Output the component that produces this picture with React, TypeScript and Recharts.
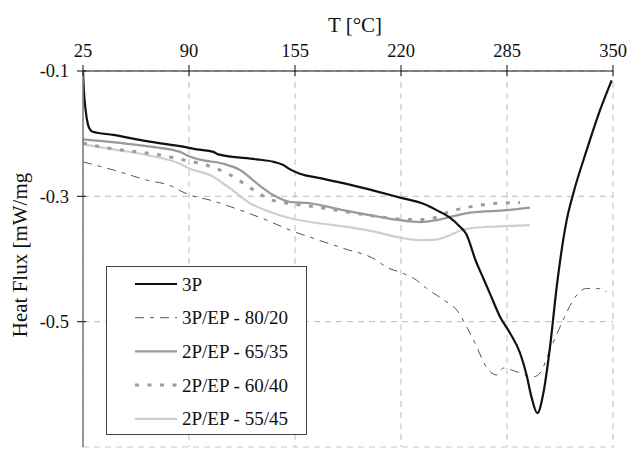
import * as React from "react";
import { LineChart, Line, XAxis, YAxis, CartesianGrid, Legend, Label } from "recharts";

const FONT = "'Liberation Serif', 'Times New Roman', serif";

const TICKS_T = [25, 90, 155, 220, 285, 350];
const TICKS_HF = [-0.7, -0.5, -0.3, -0.1];

// 3P
const t3P = [25, 25.5, 26.5, 28, 29.5, 31, 43.6, 64, 84.5, 94.7, 105, 108, 131.5, 142, 147.8, 152, 158, 170.3, 184.6, 205, 219.4, 233.7, 241.8, 250, 256, 260, 266, 270, 275, 280.7, 286.8, 293, 297, 300, 303.6, 307.3, 311.4, 315.5, 321.6, 325.7, 333.9, 342, 349.2];
const hf3P = [-0.1, -0.13, -0.16, -0.185, -0.194, -0.197, -0.202, -0.212, -0.22, -0.225, -0.229, -0.233, -0.241, -0.245, -0.25, -0.257, -0.264, -0.271, -0.279, -0.292, -0.302, -0.312, -0.322, -0.334, -0.348, -0.36, -0.404, -0.428, -0.458, -0.492, -0.518, -0.55, -0.585, -0.62, -0.646, -0.614, -0.54, -0.444, -0.338, -0.295, -0.226, -0.163, -0.115];

// 3P/EP - 80/20
const t8020 = [25, 43.6, 64, 80.4, 84.5, 90.6, 102.9, 121.3, 137.6, 152, 166.2, 184.6, 205, 211, 219.4, 229.6, 235.7, 246, 254, 264.4, 273.6, 278.7, 282.8, 291, 301.2, 305.2, 311.4, 319.5, 325.7, 333.8, 340, 346];
const hf8020 = [-0.245, -0.258, -0.274, -0.285, -0.291, -0.298, -0.306, -0.322, -0.338, -0.354, -0.367, -0.383, -0.402, -0.413, -0.421, -0.434, -0.447, -0.465, -0.481, -0.529, -0.577, -0.585, -0.574, -0.58, -0.588, -0.582, -0.545, -0.497, -0.465, -0.447, -0.447, -0.452];

// 2P/EP - 65/35
const t6535 = [25, 64, 84.5, 90, 96, 111, 121.3, 131.5, 141.7, 152, 164.2, 170.3, 184.6, 205, 219.4, 231.6, 241.8, 250, 262.3, 284.8, 299];
const hf6535 = [-0.209, -0.22, -0.229, -0.236, -0.241, -0.248, -0.258, -0.279, -0.298, -0.309, -0.311, -0.314, -0.322, -0.332, -0.338, -0.341, -0.338, -0.333, -0.326, -0.322, -0.318];

// 2P/EP - 60/40
const t6040 = [25, 38, 54.8, 72.2, 88.5, 97.7, 106, 114, 123.3, 131.5, 139.7, 147.8, 156, 165.2, 184.6, 205, 225.5, 232.7, 241, 249, 258.2, 274.6, 293];
const hf6040 = [-0.215, -0.222, -0.228, -0.234, -0.243, -0.248, -0.255, -0.264, -0.279, -0.293, -0.305, -0.31, -0.313, -0.316, -0.324, -0.332, -0.337, -0.337, -0.334, -0.325, -0.319, -0.312, -0.31];

// 2P/EP - 55/45
const t5545 = [25, 43.6, 64, 84.5, 90.6, 102.9, 115, 127.4, 139.7, 152, 164.2, 184.6, 205, 219.4, 231.6, 241.8, 250, 256, 262.3, 280, 299];
const hf5545 = [-0.217, -0.225, -0.234, -0.248, -0.256, -0.266, -0.287, -0.311, -0.325, -0.335, -0.341, -0.348, -0.357, -0.366, -0.37, -0.369, -0.362, -0.355, -0.351, -0.348, -0.346];

const pts = (t: number[], hf: number[]) => t.map((x, i) => ({ t: x, hf: hf[i] }));

type Series = { key: string; name: string; data: { t: number; hf: number }[]; stroke: string; width: number; dash?: string };

const SERIES: Series[] = [
  { key: "s1", name: "3P", data: pts(t3P, hf3P), stroke: "#111", width: 2.2 },
  { key: "s2", name: "3P/EP - 80/20", data: pts(t8020, hf8020), stroke: "#555", width: 1, dash: "9 6 4 6" },
  { key: "s3", name: "2P/EP - 65/35", data: pts(t6535, hf6535), stroke: "#999", width: 2.2 },
  { key: "s4", name: "2P/EP - 60/40", data: pts(t6040, hf6040), stroke: "#9c9c9c", width: 3, dash: "4 8.5" },
  { key: "s5", name: "2P/EP - 55/45", data: pts(t5545, hf5545), stroke: "#cfcfcf", width: 2.2 },
];
// draw order: light ones first, black on top
const DRAW_ORDER = ["s5", "s3", "s4", "s2", "s1"];

const TICK_SIZE = 6;
const TICK_MARGIN = 8;

function XTick(props: any) {
  const { x, y, payload } = props;
  const axisY = y + TICK_SIZE + TICK_MARGIN;
  return (
    <g>
      <line x1={x} x2={x} y1={axisY - 6} y2={axisY + 5} stroke="#111" strokeWidth={1} />
      <text x={x} y={y} textAnchor="middle" fontSize={18.5} fontFamily={FONT} fill="#111">
        {payload.value}
      </text>
    </g>
  );
}

function YTick(props: any) {
  const { x, y, payload } = props;
  const axisX = x + TICK_SIZE + TICK_MARGIN;
  return (
    <g>
      <line x1={axisX - 6} x2={axisX + 3} y1={y} y2={y} stroke="#111" strokeWidth={1} />
      <text x={x} y={y} dy="0.35em" textAnchor="end" fontSize={18.5} fontFamily={FONT} fill="#111">
        {Number(payload.value).toFixed(1)}
      </text>
    </g>
  );
}

function LegendBox() {
  return (
    <div
      style={{
        width: 201,
        height: 169,
        boxSizing: "border-box",
        border: "1px solid #444",
        background: "#fff",
      }}
    >
      <svg width={199} height={167}>
        {SERIES.map((s, i) => {
          const cy = 17 + i * 33.7;
          return (
            <g key={s.key}>
              <line x1={28} x2={70} y1={cy} y2={cy} stroke={s.stroke} strokeWidth={s.width} strokeDasharray={s.dash} />
              <text x={75} y={cy} dy="0.35em" fontSize={19} fontFamily={FONT} fill="#111">
                {s.name}
              </text>
            </g>
          );
        })}
      </svg>
    </div>
  );
}

export default function App() {
  return (
    <div style={{ position: "absolute", left: 0, top: 0, background: "#fff" }}>
      <LineChart width={630} height={452} margin={{ top: 0, right: 17, bottom: 5, left: 0 }}>
        <CartesianGrid stroke="#c8c8c8" strokeDasharray="6 5" strokeWidth={1.2} />
        <XAxis
          type="number"
          dataKey="t"
          orientation="top"
          domain={[25, 350]}
          ticks={TICKS_T}
          allowDataOverflow
          height={71}
          axisLine={{ stroke: "#111", strokeWidth: 1 }}
          tickLine={false}
          tickSize={TICK_SIZE}
          tickMargin={TICK_MARGIN}
          tick={<XTick />}
        >
          <Label
            content={(p: any) => {
              const vb = p.viewBox || { x: 83, width: 530 };
              return (
                <text x={vb.x + vb.width / 2 + 7} y={32} textAnchor="middle" fontSize={21} fontFamily={FONT} fill="#111">
                  T [°C]
                </text>
              );
            }}
          />
        </XAxis>
        <YAxis
          type="number"
          domain={[-0.7, -0.1]}
          ticks={TICKS_HF}
          allowDataOverflow
          width={83}
          axisLine={{ stroke: "#808080", strokeWidth: 1.6 }}
          tickLine={false}
          tickSize={TICK_SIZE}
          tickMargin={TICK_MARGIN}
          tick={<YTick />}
        >
          <Label
            content={() => (
              <text
                x={26.5}
                y={255}
                transform="rotate(-90, 26.5, 255)"
                textAnchor="middle"
                fontSize={21}
                fontFamily={FONT}
                fill="#111"
              >
                Heat Flux [mW/mg
              </text>
            )}
          />
        </YAxis>
        {DRAW_ORDER.map((k) => {
          const s = SERIES.find((x) => x.key === k)!;
          return (
            <Line
              key={s.key}
              data={s.data}
              dataKey="hf"
              name={s.name}
              type="monotone"
              stroke={s.stroke}
              strokeWidth={s.width}
              strokeDasharray={s.dash}
              dot={false}
              activeDot={false}
              isAnimationActive={false}
            />
          );
        })}
        <Legend
          layout="vertical"
          align="center"
          verticalAlign="middle"
          content={() => <LegendBox />}
          wrapperStyle={{ left: 106, top: 266, width: 201, height: 169 }}
        />
      </LineChart>
    </div>
  );
}
